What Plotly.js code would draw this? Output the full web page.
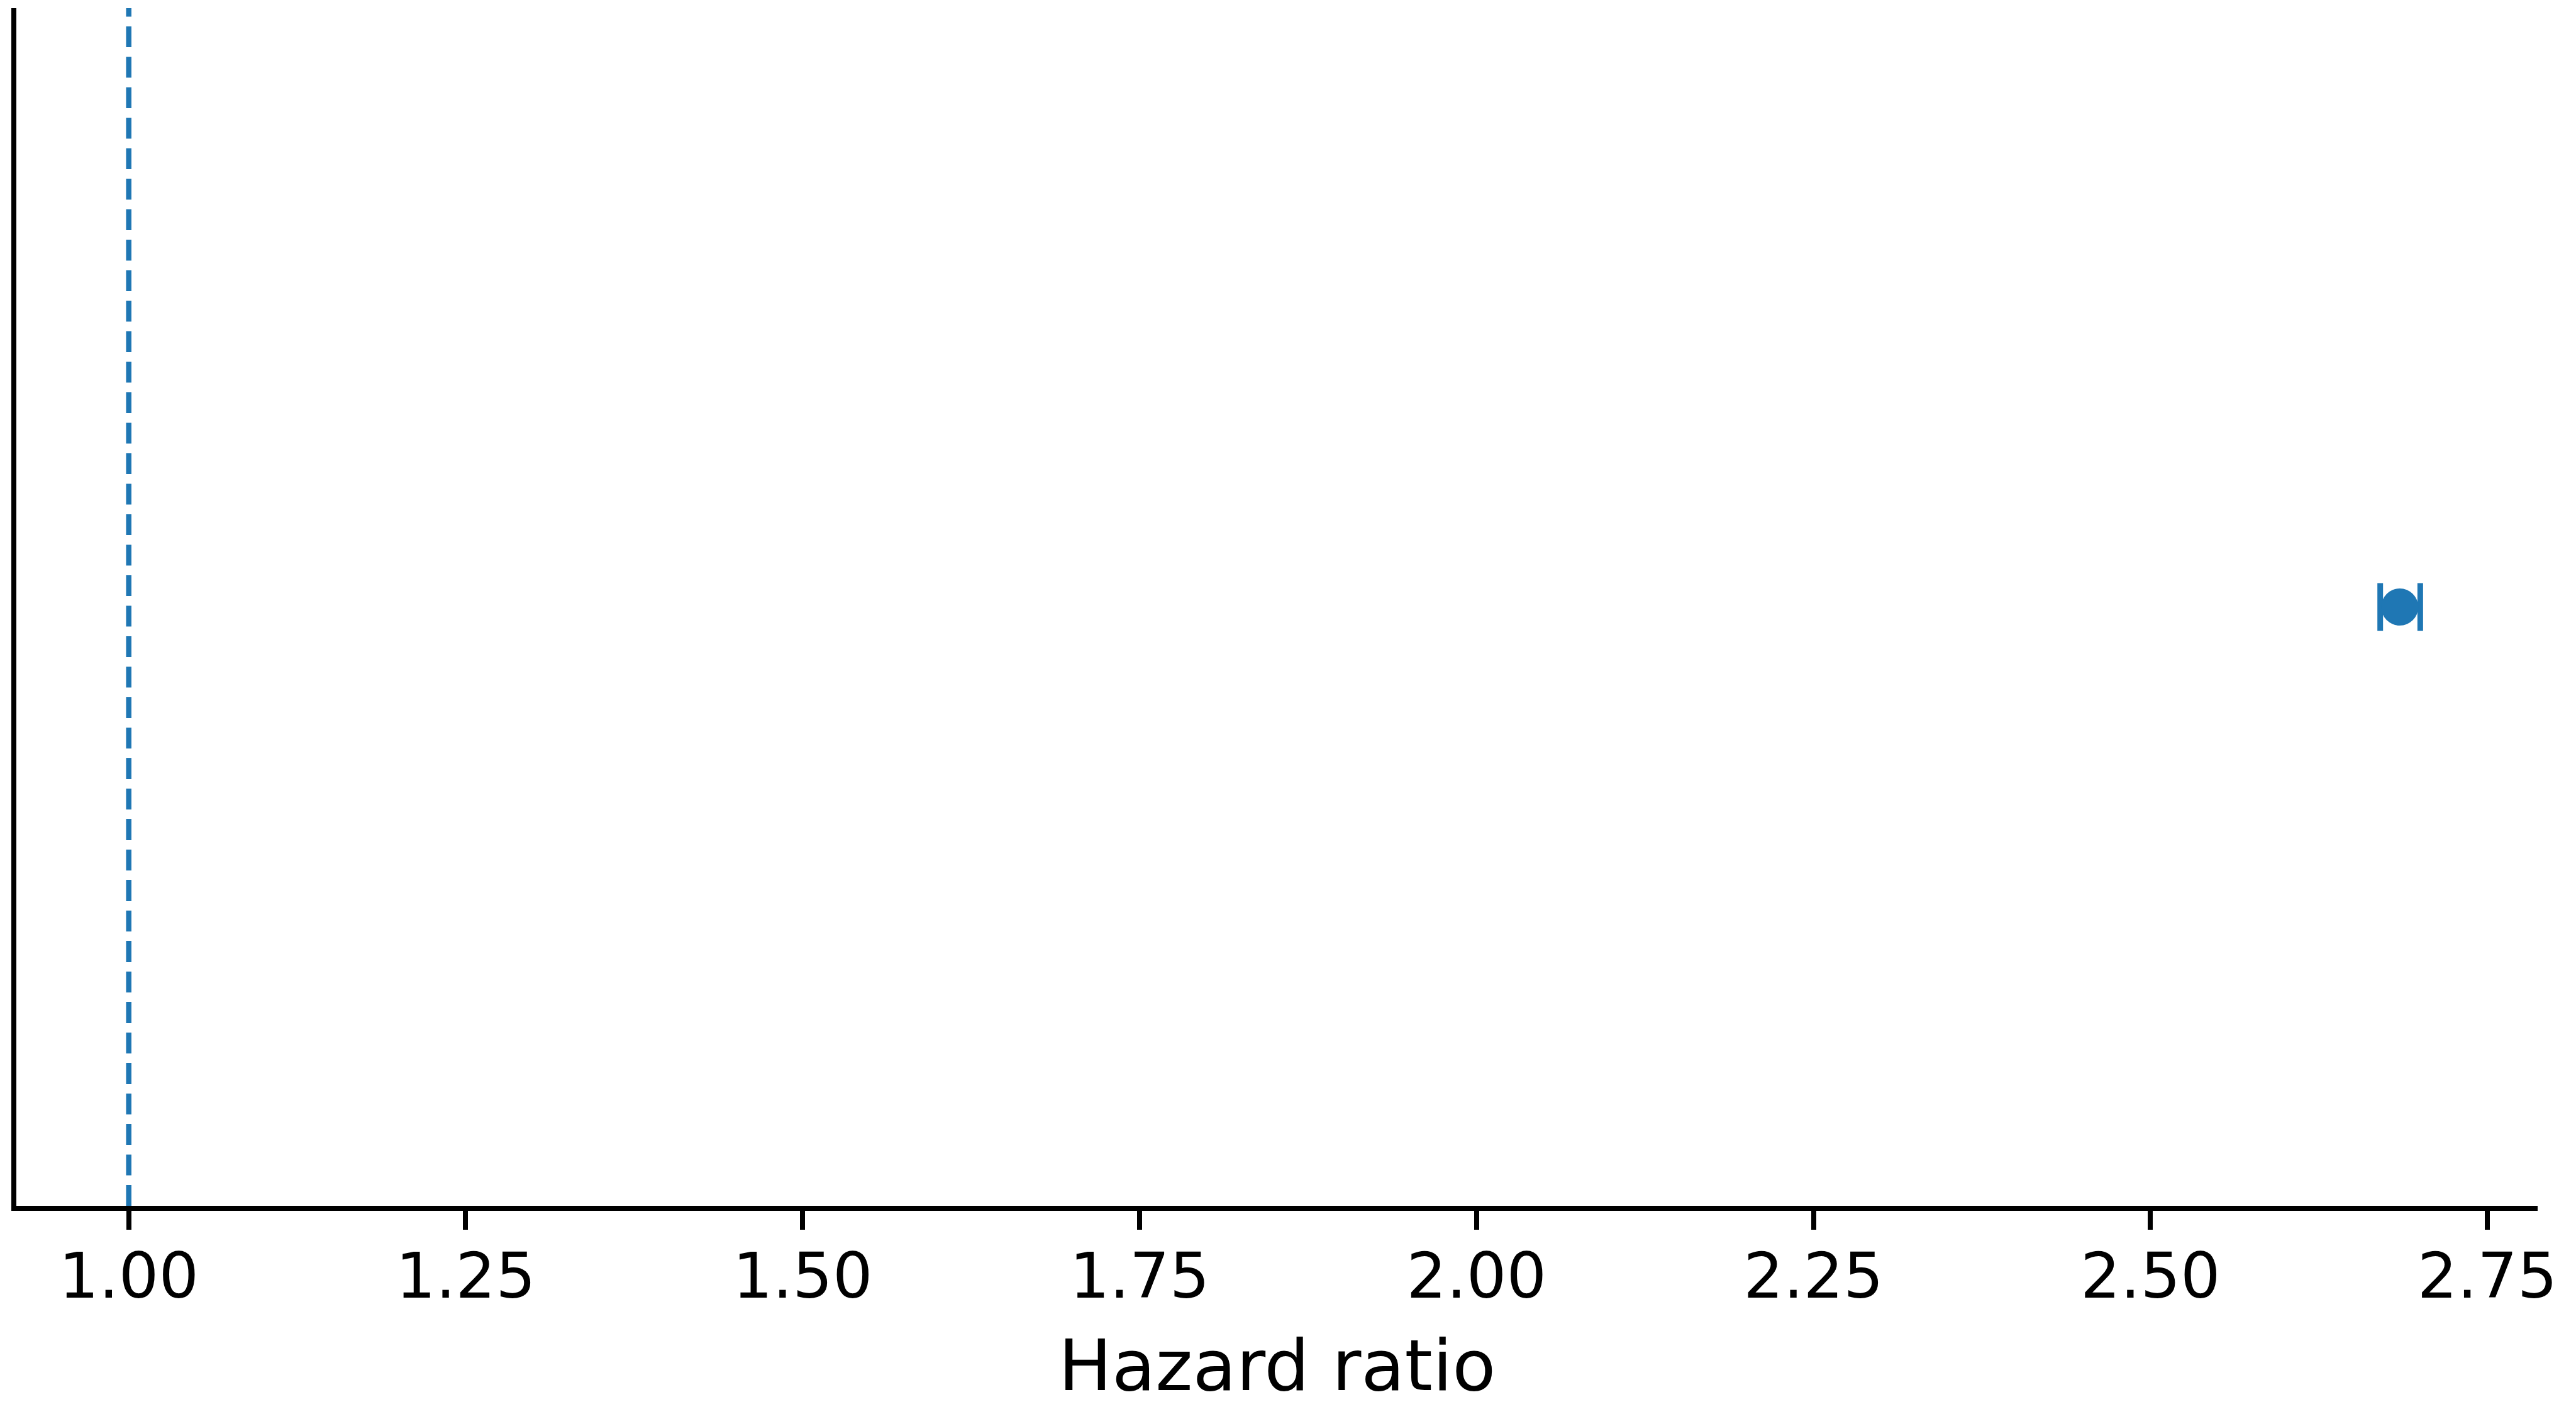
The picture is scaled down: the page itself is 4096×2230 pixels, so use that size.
<!DOCTYPE html>
<html>
<head>
<meta charset="utf-8">
<script src="https://cdn.plot.ly/plotly-3.0.1.min.js"></script>
<style>html,body{margin:0;padding:0;background:#fff;}#chart{width:4096px;height:2230px;}</style>
</head>
<body>
<div id="chart"></div>
<script>
// Data
const labels = ["Model"];
const hazardRatio = [2.685];
const ciLower = [2.6705];
const ciUpper = [2.7002];
const yPos = [0];
const nullValue = 1.0;
const xTickVals = [1.0, 1.25, 1.5, 1.75, 2.0, 2.25, 2.5, 2.75];
const xTickText = ["1.00", "1.25", "1.50", "1.75", "2.00", "2.25", "2.50", "2.75"];
const xTitle = "Hazard ratio";

const blue = "#1f77b4";
const font = "DejaVu Sans, sans-serif";

const trace = {
  type: "scatter",
  mode: "markers",
  x: hazardRatio,
  y: yPos,
  text: labels,
  marker: {color: blue, size: 59, symbol: "circle"},
  error_x: {
    type: "data",
    symmetric: false,
    array: hazardRatio.map((v, i) => ciUpper[i] - v),
    arrayminus: hazardRatio.map((v, i) => v - ciLower[i]),
    color: blue,
    thickness: 9,
    width: 38
  },
  showlegend: false,
  hoverinfo: "skip"
};

const layout = {
  width: 4096,
  height: 2230,
  margin: {l: 26, r: 61, t: 13, b: 312},
  paper_bgcolor: "#ffffff",
  plot_bgcolor: "#ffffff",
  font: {family: font, color: "#000000", size: 100},
  showlegend: false,
  xaxis: {
    range: [0.9166, 2.7873],
    tickmode: "array",
    tickvals: xTickVals,
    ticktext: xTickText,
    tickfont: {family: font, size: 100, color: "#000000"},
    ticks: "outside",
    ticklen: 30,
    tickwidth: 8,
    tickcolor: "#000000",
    ticklabelstandoff: -12,
    showline: true,
    linecolor: "#000000",
    linewidth: 8,
    showgrid: false,
    zeroline: false
  },
  yaxis: {
    range: [-1, 1],
    showticklabels: false,
    ticks: "",
    showline: true,
    linecolor: "#000000",
    linewidth: 8,
    showgrid: false,
    zeroline: false
  },
  annotations: [{
    text: xTitle,
    xref: "paper", yref: "paper",
    x: 0.5, y: -0.1333,
    xanchor: "center", yanchor: "middle",
    showarrow: false,
    font: {family: font, size: 113, color: "#000000"}
  }],
  shapes: [{
    type: "line",
    xref: "x", yref: "paper",
    x0: nullValue, x1: nullValue, y0: 0, y1: 1,
    line: {color: blue, width: 8.5, dash: "33px,15.5px"},
    layer: "below"
  }]
};

Plotly.newPlot("chart", [trace], layout, {displayModeBar: false, staticPlot: true});
</script>
</body>
</html>
